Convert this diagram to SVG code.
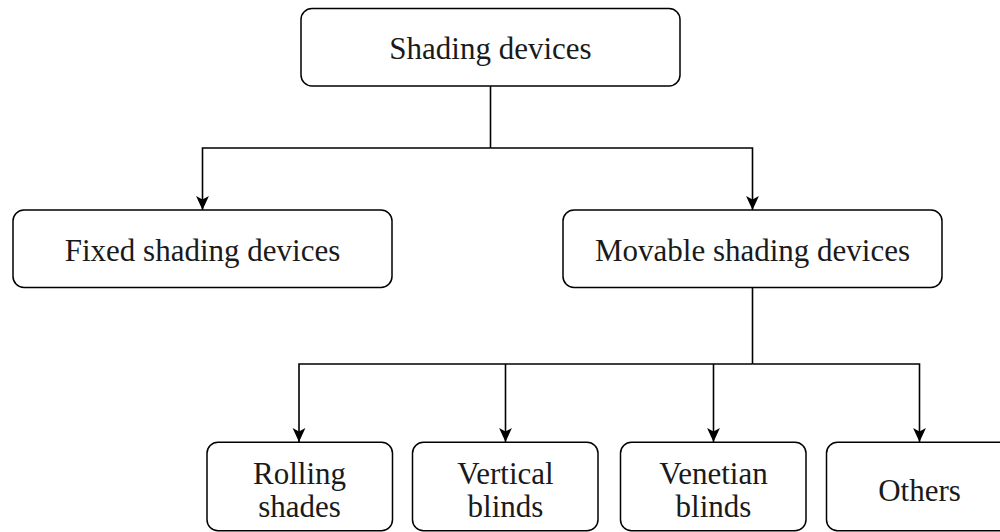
<svg xmlns="http://www.w3.org/2000/svg" width="1000" height="532" viewBox="0 0 1000 532">
<style>
.box{fill:#fff;stroke:#000;stroke-width:1.5}
.t{font-family:"Liberation Serif","Times New Roman",serif;font-size:31px;fill:#1a1a1a;text-anchor:middle}
.c{fill:none;stroke:#000;stroke-width:1.6}
</style>
<defs>
<marker id="ah" viewBox="0 0 12 12" refX="12" refY="6" markerWidth="14" markerHeight="14" markerUnits="userSpaceOnUse" orient="auto">
<path d="M0,0.5 L12,6 L0,11.5 L3,6 Z" fill="#000"/>
</marker>
</defs>
<g id="connectors">
<path class="c" d="M490.5,86 V148"/>
<path class="c" d="M490.5,148 H202.5 V210" marker-end="url(#ah)"/>
<path class="c" d="M490.5,148 H752.5 V210" marker-end="url(#ah)"/>
<path class="c" d="M752.5,287.5 V364"/>
<path class="c" d="M752.5,364 H299 V442" marker-end="url(#ah)"/>
<path class="c" d="M505.5,364 V442" marker-end="url(#ah)"/>
<path class="c" d="M713.5,364 V442" marker-end="url(#ah)"/>
<path class="c" d="M752.5,364 H919.5 V442" marker-end="url(#ah)"/>
</g>
<g id="shading-devices">
<rect class="box" x="301" y="8.5" width="379" height="77.5" rx="11"/>
<text class="t" x="490.5" y="59">Shading devices</text>
</g>
<g id="fixed">
<rect class="box" x="13" y="210" width="379" height="77.5" rx="11"/>
<text class="t" x="202.5" y="261">Fixed shading devices</text>
</g>
<g id="movable">
<rect class="box" x="563" y="210" width="379" height="77.5" rx="11"/>
<text class="t" x="752.5" y="261">Movable shading devices</text>
</g>
<g id="rolling">
<rect class="box" x="207" y="442.3" width="185.5" height="88.5" rx="11"/>
<text class="t" x="299.5" y="484">Rolling</text>
<text class="t" x="299.5" y="517">shades</text>
</g>
<g id="vertical">
<rect class="box" x="412.5" y="442.3" width="185.5" height="88.5" rx="11"/>
<text class="t" x="505.5" y="484">Vertical</text>
<text class="t" x="505.5" y="517">blinds</text>
</g>
<g id="venetian">
<rect class="box" x="620.5" y="442.3" width="185.5" height="88.5" rx="11"/>
<text class="t" x="713.5" y="484">Venetian</text>
<text class="t" x="713.5" y="517">blinds</text>
</g>
<g id="others">
<rect class="box" x="826.5" y="442.3" width="185.5" height="88.5" rx="11"/>
<text class="t" x="919.5" y="501">Others</text>
</g>
</svg>
